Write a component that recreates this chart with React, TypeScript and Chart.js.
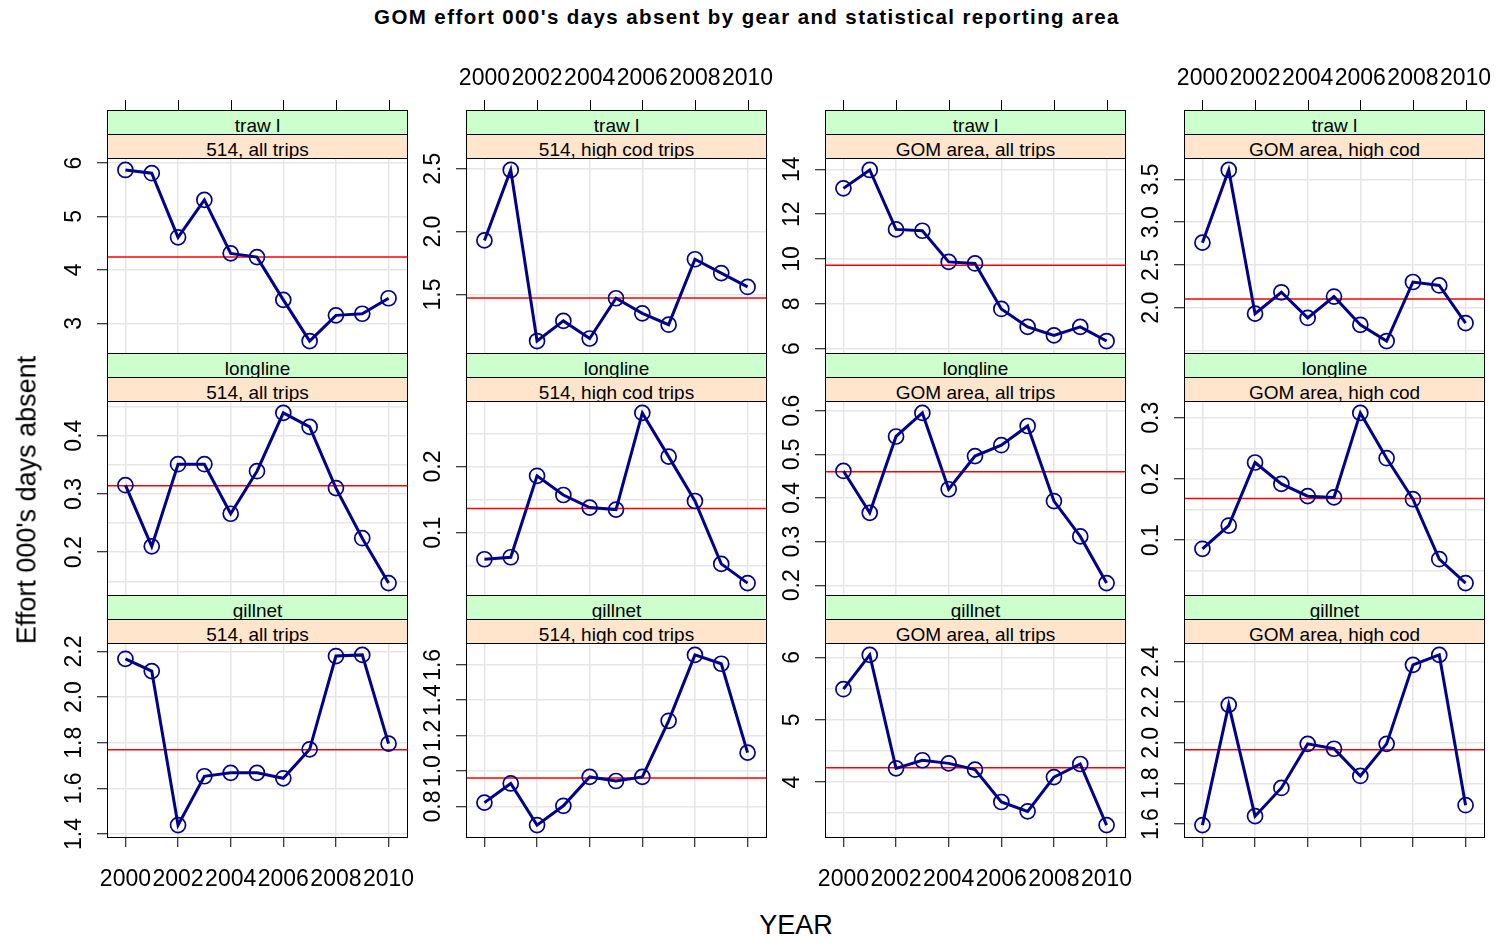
import React, { useEffect, useRef } from 'react';
import { Chart, registerables } from 'chart.js';

Chart.register(...registerables);

// ---------------- data ----------------
const YEARS = [2000, 2001, 2002, 2003, 2004, 2005, 2006, 2007, 2008, 2009, 2010];
const X_TICK_LABELS = ['2000', '2002', '2004', '2006', '2008', '2010'];
const GEAR_LABELS = ['traw l', 'longline', 'gillnet'];
const AREA_LABELS = ['514, all trips', '514, high cod trips', 'GOM area, all trips', 'GOM area, high cod'];

const trawl514All = [5.87, 5.81, 4.61, 5.31, 4.31, 4.24, 3.44, 2.67, 3.15, 3.18, 3.47];
const trawl514HighCod = [1.93, 2.49, 1.13, 1.29, 1.15, 1.47, 1.35, 1.26, 1.78, 1.67, 1.56];
const trawlGomAll = [13.15, 13.97, 11.32, 11.26, 9.87, 9.8, 7.77, 6.97, 6.59, 6.97, 6.34];
const trawlGomHighCod = [2.76, 3.61, 1.93, 2.18, 1.88, 2.13, 1.8, 1.61, 2.3, 2.26, 1.82];
const longline514All = [0.315, 0.21, 0.351, 0.351, 0.266, 0.339, 0.439, 0.415, 0.31, 0.224, 0.147];
const longline514HighCod = [0.06, 0.063, 0.186, 0.157, 0.138, 0.135, 0.281, 0.215, 0.148, 0.053, 0.024];
const longlineGomAll = [0.462, 0.366, 0.541, 0.595, 0.42, 0.496, 0.521, 0.565, 0.393, 0.312, 0.205];
const longlineGomHighCod = [0.086, 0.124, 0.227, 0.192, 0.172, 0.17, 0.308, 0.234, 0.167, 0.069, 0.03];
const gillnet514All = [2.168, 2.114, 1.439, 1.653, 1.668, 1.668, 1.644, 1.771, 2.18, 2.185, 1.796];
const gillnet514HighCod = [0.822, 0.93, 0.695, 0.804, 0.967, 0.944, 0.967, 1.284, 1.656, 1.606, 1.104];
const gillnetGomAll = [5.49, 6.04, 4.22, 4.35, 4.3, 4.2, 3.68, 3.53, 4.08, 4.29, 3.31];
const gillnetGomHighCod = [1.595, 2.187, 1.639, 1.778, 1.995, 1.971, 1.837, 1.995, 2.384, 2.433, 1.693];

const TRAWL_MEANS = [4.24, 1.473, 9.72, 2.102];
const LONGLINE_MEANS = [0.314, 0.1365, 0.46, 0.168];
const GILLNET_MEANS = [1.769, 0.961, 4.229, 1.966];

const Y_TICK_LABELS = [
  ['3', '4', '5', '6'], ['1.5', '2.0', '2.5'], ['6', '8', '10', '12', '14'], ['2.0', '2.5', '3.0', '3.5'],
  ['0.2', '0.3', '0.4'], ['0.1', '0.2'], ['0.2', '0.3', '0.4', '0.5', '0.6'], ['0.1', '0.2', '0.3'],
  ['1.4', '1.6', '1.8', '2.0', '2.2'], ['0.8', '1.0', '1.2', '1.4', '1.6'], ['4', '5', '6'], ['1.6', '1.8', '2.0', '2.2', '2.4'],
];
const Y_GRID_STEPS = [1, 0.5, 2, 0.5, 0.05, 0.05, 0.1, 0.05, 0.2, 0.2, 0.5, 0.2];

const SERIES = [
  trawl514All, trawl514HighCod, trawlGomAll, trawlGomHighCod,
  longline514All, longline514HighCod, longlineGomAll, longlineGomHighCod,
  gillnet514All, gillnet514HighCod, gillnetGomAll, gillnetGomHighCod,
];
const MEANS = [...TRAWL_MEANS, ...LONGLINE_MEANS, ...GILLNET_MEANS];

// ---------------- layout / style ----------------
const FONT = '"Liberation Sans", Arial, Helvetica, sans-serif';
const COL_LEFT = [107, 466, 825, 1184];
const PANEL_W = 300;
const ROW_TOP = [110, 353, 595];
const GRID_BOTTOM = 837;
const STRIP_H = 24;
const PAD_L = 100;
const PAD_T = 100;
const PAD_R = 10;
const PAD_B = 70;
const TICK_LEN = 10;
const TICK_FONT = 23;
const LINE_COLOR = '#00008B';
const GRID_COLOR = '#e6e6e6';
const PAD_FRAC = 0.07;

const X_MIN = YEARS[0] - PAD_FRAC * (YEARS[YEARS.length - 1] - YEARS[0]);
const X_MAX = YEARS[YEARS.length - 1] + PAD_FRAC * (YEARS[YEARS.length - 1] - YEARS[0]);

function Panel({ row, col }: { row: number; col: number }) {
  const ref = useRef<HTMLCanvasElement>(null);
  const idx = row * 4 + col;
  const plotTop = ROW_TOP[row] + 2 * STRIP_H;
  const plotBottom = row < 2 ? ROW_TOP[row + 1] : GRID_BOTTOM;
  const plotH = plotBottom - plotTop;
  const W = PANEL_W + PAD_L + PAD_R;
  const H = plotH + PAD_T + PAD_B;

  useEffect(() => {
    const values = SERIES[idx];
    const mean = MEANS[idx];
    const lo = Math.min(...values);
    const hi = Math.max(...values);
    const yMin = lo - PAD_FRAC * (hi - lo);
    const yMax = hi + PAD_FRAC * (hi - lo);
    const labels = Y_TICK_LABELS[idx];
    const labelVals = labels.map(Number);
    const step = Y_GRID_STEPS[idx];
    const labelFor = (v: number) => {
      const i = labelVals.findIndex((l) => Math.abs(l - v) < step * 1e-3);
      return i >= 0 ? labels[i] : null;
    };
    const xTicks = X_TICK_LABELS.map(Number);
    const isBottom = row === 2;
    const isTop = row === 0;
    const xLabelsShown = col % 2 === 0;

    const deco = {
      id: 'panelDeco',
      afterDraw(chart: any) {
        const { ctx, chartArea: a, scales } = chart;
        const ys = scales.y;
        const xs = scales.x;
        ctx.save();
        // panel border
        ctx.strokeStyle = '#000';
        ctx.lineWidth = 1;
        ctx.strokeRect(a.left + 0.5, a.top + 0.5, a.right - a.left, a.bottom - a.top);
        // y tick labels (rotated)
        ctx.fillStyle = '#000';
        ctx.font = `${TICK_FONT}px ${FONT}`;
        ctx.textAlign = 'center';
        ctx.textBaseline = 'middle';
        ys.ticks.forEach((t: any) => {
          const lab = labelFor(t.value);
          if (!lab) return;
          const py = ys.getPixelForValue(t.value);
          ctx.save();
          ctx.translate(a.left - 32, py);
          ctx.rotate(-Math.PI / 2);
          ctx.fillText(lab, 0, 0);
          ctx.restore();
        });
        // top axis (above strips) for first row
        if (isTop) {
          const axisY = a.top - 2 * STRIP_H;
          ctx.beginPath();
          xTicks.forEach((v) => {
            const px = Math.round(xs.getPixelForValue(v)) + 0.5;
            ctx.moveTo(px, axisY - TICK_LEN);
            ctx.lineTo(px, axisY);
          });
          ctx.stroke();
          if (!xLabelsShown) {
            X_TICK_LABELS.forEach((lab, i) => {
              const px = xs.getPixelForValue(xTicks[i]);
              ctx.fillText(lab, px, axisY - 31);
            });
          }
        }
        ctx.restore();
      },
    };

    const chart = new Chart(ref.current as HTMLCanvasElement, {
      type: 'line',
      data: {
        datasets: [
          {
            data: YEARS.map((y, i) => ({ x: y, y: values[i] })),
            borderColor: LINE_COLOR,
            borderWidth: 3,
            pointRadius: 7.5,
            pointBorderWidth: 1.7,
            pointBorderColor: LINE_COLOR,
            pointBackgroundColor: 'rgba(0,0,0,0)',
            pointStyle: 'circle',
            tension: 0,
          },
          {
            data: [
              { x: X_MIN, y: mean },
              { x: X_MAX, y: mean },
            ],
            borderColor: '#ff0000',
            borderWidth: 1.5,
            pointRadius: 0,
            tension: 0,
          },
        ],
      },
      options: {
        animation: false,
        responsive: false,
        events: [],
        layout: { autoPadding: false, padding: { left: 0, top: PAD_T, right: PAD_R, bottom: 0 } },
        plugins: { legend: { display: false }, tooltip: { enabled: false }, title: { display: false } },
        scales: {
          x: {
            type: 'linear',
            position: 'bottom',
            min: X_MIN,
            max: X_MAX,
            bounds: 'data',
            border: { display: false },
            grid: {
              color: GRID_COLOR,
              lineWidth: 1.5,
              drawTicks: isBottom,
              tickLength: TICK_LEN,
              tickColor: '#000',
              tickWidth: 1,
            },
            ticks: {
              display: isBottom && xLabelsShown,
              autoSkip: false,
              maxRotation: 0,
              minRotation: 0,
              padding: 19,
              color: '#000',
              font: { family: FONT, size: TICK_FONT },
              callback: (v: any) => String(v),
            },
            afterBuildTicks: (scale: any) => {
              scale.ticks = xTicks.map((v) => ({ value: v }));
            },
            afterFit: (scale: any) => {
              scale.height = PAD_B;
              scale.paddingLeft = 0;
              scale.paddingRight = 0;
            },
          },
          y: {
            type: 'linear',
            position: 'left',
            min: yMin,
            max: yMax,
            bounds: 'data',
            border: { display: false },
            grid: {
              color: GRID_COLOR,
              lineWidth: 1.5,
              drawTicks: true,
              tickLength: TICK_LEN,
              tickWidth: 1,
              tickColor: (ctx: any) => (ctx.tick && labelFor(ctx.tick.value) ? '#000' : 'rgba(0,0,0,0)'),
            },
            ticks: { display: false, autoSkip: false },
            afterBuildTicks: (scale: any) => {
              const s = Math.ceil(scale.min / step - 1e-9);
              const e = Math.floor(scale.max / step + 1e-9);
              const t: any[] = [];
              for (let k = s; k <= e; k++) t.push({ value: +(k * step).toFixed(6) });
              scale.ticks = t;
            },
            afterFit: (scale: any) => {
              scale.width = PAD_L;
              scale.paddingTop = 0;
              scale.paddingBottom = 0;
            },
          },
        },
      },
      plugins: [deco],
    } as any);
    return () => chart.destroy();
  }, []);

  return (
    <canvas
      ref={ref}
      width={W}
      height={H}
      style={{ position: 'absolute', left: COL_LEFT[col] - PAD_L, top: plotTop - PAD_T, width: W, height: H }}
    />
  );
}

function Strip({ left, top, bg, text }: { left: number; top: number; bg: string; text: string }) {
  return (
    <div
      style={{
        position: 'absolute',
        left,
        top,
        width: PANEL_W + 1,
        height: STRIP_H + 1,
        boxSizing: 'border-box',
        border: '1px solid #000',
        background: bg,
        fontFamily: FONT,
        fontSize: 19,
        lineHeight: `${STRIP_H + 5}px`,
        textAlign: 'center',
        color: '#000',
        whiteSpace: 'pre',
        overflow: 'hidden',
      }}
    >
      {text}
    </div>
  );
}

export default function App() {
  const panels: JSX.Element[] = [];
  const strips: JSX.Element[] = [];
  for (let r = 0; r < 3; r++) {
    for (let c = 0; c < 4; c++) {
      panels.push(<Panel key={`p${r}${c}`} row={r} col={c} />);
      strips.push(<Strip key={`g${r}${c}`} left={COL_LEFT[c]} top={ROW_TOP[r]} bg="#ccffcc" text={GEAR_LABELS[r]} />);
      strips.push(
        <Strip key={`a${r}${c}`} left={COL_LEFT[c]} top={ROW_TOP[r] + STRIP_H} bg="#ffe5cc" text={AREA_LABELS[c]} />
      );
    }
  }
  return (
    <div
      style={{
        position: 'absolute',
        left: 0,
        top: 0,
        width: 1496,
        height: 943,
        background: '#fff',
        overflow: 'hidden',
        fontFamily: FONT,
        color: '#000',
      }}
    >
      <div
        style={{
          position: 'absolute',
          left: 747,
          top: 17,
          transform: 'translate(-50%, -50%)',
          fontWeight: 'bold',
          fontSize: 20.5,
          letterSpacing: '1.4px',
          whiteSpace: 'nowrap',
          lineHeight: 1,
        }}
      >
        GOM effort 000's days absent by gear and statistical reporting area
      </div>
      {panels}
      {strips}
      <div
        style={{
          position: 'absolute',
          left: 27,
          top: 500,
          transform: 'translate(-50%, -50%) rotate(-90deg)',
          fontSize: 27,
          whiteSpace: 'nowrap',
          lineHeight: 1,
        }}
      >
        Effort 000's days absent
      </div>
      <div
        style={{
          position: 'absolute',
          left: 796,
          top: 925,
          transform: 'translate(-50%, -50%)',
          fontSize: 27,
          whiteSpace: 'nowrap',
          lineHeight: 1,
        }}
      >
        YEAR
      </div>
    </div>
  );
}
